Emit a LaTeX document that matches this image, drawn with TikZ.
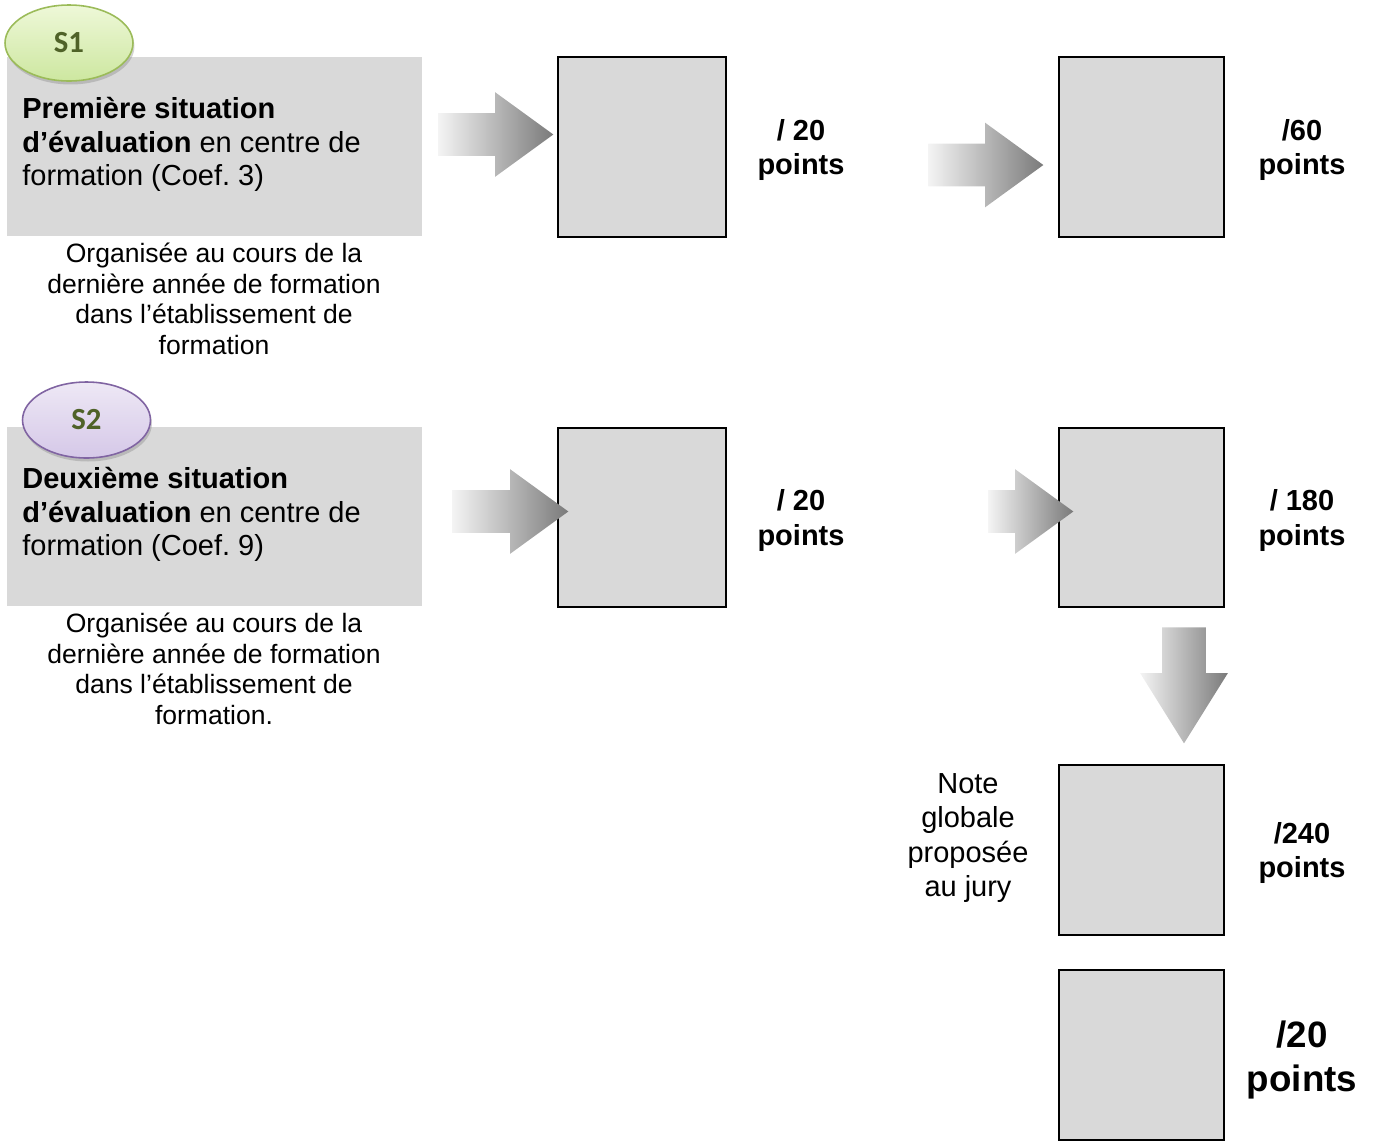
\documentclass[tikz,border=0pt]{standalone}
\usepackage{fontspec}
\setmainfont{Liberation Sans}
\newfontfamily\calib{Carlito}
\frenchspacing
\usetikzlibrary{shapes.geometric,shapes.arrows,shadows}
\tikzset{>=latex}
\definecolor{boxgray}{HTML}{D9D9D9}
\definecolor{arrlight}{HTML}{F4F4F4}
\definecolor{arrdark}{HTML}{7A7A7A}
\definecolor{sgreen}{HTML}{4F6228}
\definecolor{greentop}{HTML}{EEF8D8}
\definecolor{greenbot}{HTML}{CDE7A0}
\definecolor{greenline}{HTML}{9BBB59}
\definecolor{violettop}{HTML}{EEE8F5}
\definecolor{violetbot}{HTML}{D5C8E8}
\definecolor{violetline}{HTML}{8064A2}
\tikzset{
  graybox/.style={fill=boxgray, minimum width=8.3cm, minimum height=3.58cm, inner sep=0pt},
  sq/.style={draw=black, line width=1.1pt, fill=boxgray, inner sep=0pt},
  boxtext/.style={anchor=north west, inner sep=0pt, align=left, font=\fontsize{16.5}{19.1}\selectfont},
  caption/.style={anchor=north, inner sep=0pt, align=center, font=\fontsize{15.1}{17.3}\selectfont},
  pts/.style={inner sep=0pt, align=center, font=\fontsize{16.5}{19.4}\selectfont\bfseries},
  blockarrow/.style={single arrow, draw=none, anchor=tail, inner xsep=0pt, inner ysep=0.42cm, minimum width=0pt,
    single arrow head extend=0.42cm, single arrow tip angle=72, left color=arrlight, right color=arrdark},
  sbadge/.style={ellipse, draw, line width=0.9pt, minimum width=2.56cm, minimum height=1.52cm,
    text=sgreen, font=\calib\fontsize{17.5}{20}\selectfont\bfseries,
    drop shadow={opacity=0.35, shadow xshift=0.03cm, shadow yshift=-0.07cm}}
}
\begin{document}
\begin{tikzpicture}[x=0.02cm,y=-0.02cm]
    \draw[draw=none,use as bounding box] (0,0) rectangle (1380,1147);
    % left column
    \node[graybox] (box1) at (214.5,146.5) {};
    \node[graybox] (box2) at (214.5,516.5) {};
    \node[sbadge, draw=greenline, top color=greentop, bottom color=greenbot] (s1) at (69,43) {S1};
    \node[sbadge, draw=violetline, top color=violettop, bottom color=violetbot] (s2) at (86.5,420) {S2};
    \node[boxtext] (t1) at (22,97) {\textbf{Première situation}\\ \textbf{d’évaluation} en centre de\\ formation (Coef. 3)};
    \node[boxtext] (t2) at (22,467) {\textbf{Deuxième situation}\\ \textbf{d’évaluation} en centre de\\ formation (Coef. 9)};
    \node[caption] (c1) at (214,243) {Organisée au cours de la\\ dernière année de formation\\ dans l’établissement de\\ formation};
    \node[caption] (c2) at (214,613) {Organisée au cours de la\\ dernière année de formation\\ dans l’établissement de\\ formation.};
    % squares
    \node[sq, minimum width=3.36cm, minimum height=3.6cm] (q1) at (642,147) {};
    \node[sq, minimum width=3.36cm, minimum height=3.58cm] (q2) at (642,517.5) {};
    \node[sq, minimum width=3.3cm, minimum height=3.6cm] (q3) at (1141.5,147) {};
    \node[sq, minimum width=3.3cm, minimum height=3.58cm] (q4) at (1141.5,517.5) {};
    \node[sq, minimum width=3.3cm, minimum height=3.4cm] (q5) at (1141.5,850) {};
    \node[sq, minimum width=3.3cm, minimum height=3.4cm] (q6) at (1141.5,1055) {};
    % scores
    \node[pts] (p1) at (801,150) {/ 20\\ points};
    \node[pts] (p2) at (1302,150) {/60\\ points};
    \node[pts] (p3) at (801,520.5) {/ 20\\ points};
    \node[pts] (p4) at (1302,520.5) {/ 180\\ points};
    \node[pts] (p5) at (1302,853) {/240\\ points};
    \node[pts, font=\fontsize{20.9}{25}\selectfont\bfseries] (p6) at (1302,1060) {/20\\ points};
    \node[inner sep=0pt, align=center, font=\fontsize{16.5}{19.4}\selectfont] (note) at (968,838) {Note\\ globale\\ proposée\\ au jury};
    % block arrows
    \node[blockarrow, minimum height=2.3cm] (a1) at (438,134.5) {};
    \node[blockarrow, minimum height=2.3cm] (a2) at (928,165) {};
    \node[blockarrow, minimum height=2.32cm] (a3) at (452,511.5) {};
    \node[blockarrow, minimum height=1.7cm] (a4) at (988,511.5) {};
    \node[blockarrow, shape border rotate=270, inner xsep=0.43cm, inner ysep=0pt, single arrow tip angle=64,
      single arrow head extend=0.44cm, minimum height=2.32cm] (a5) at (1184,627) {};
\end{tikzpicture}
\end{document}
